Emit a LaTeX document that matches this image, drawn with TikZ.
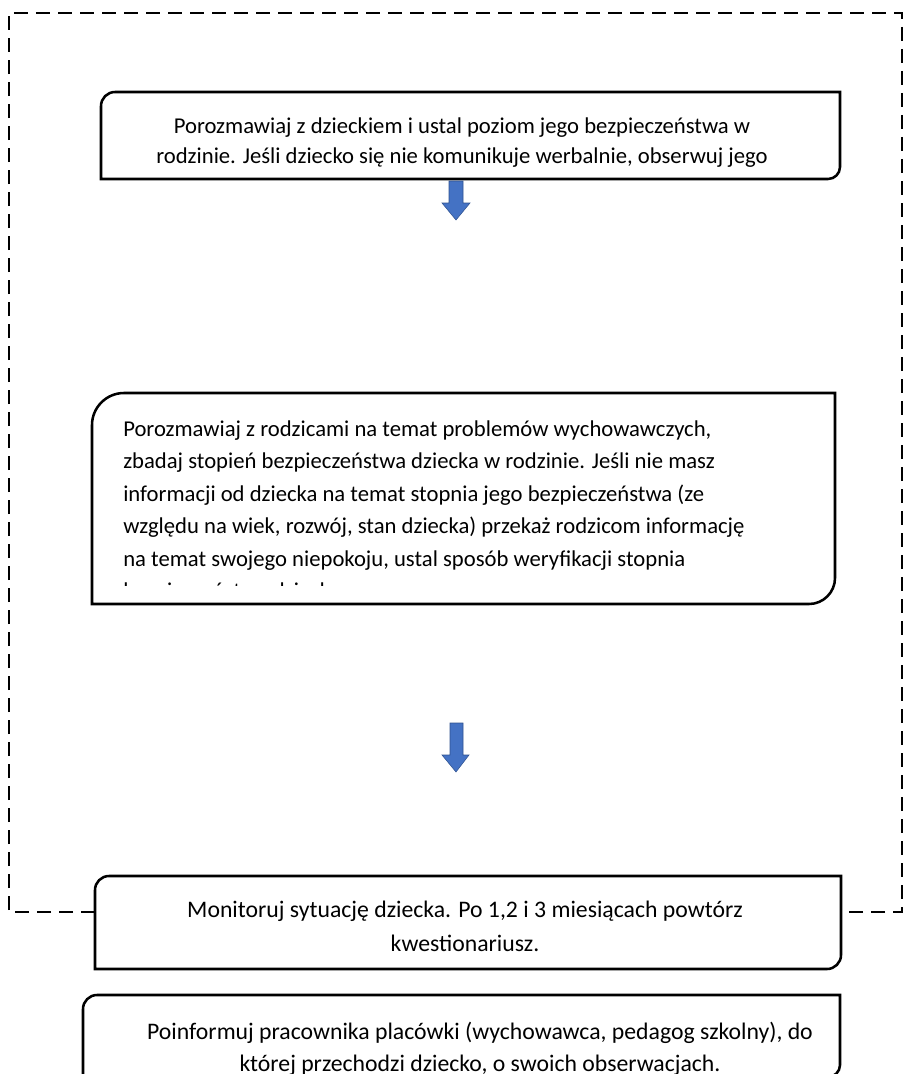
\documentclass[tikz,border=0pt]{standalone}
\usepackage{fontspec}
\setmainfont{Carlito}
\definecolor{arrowblue}{HTML}{4472C4}
\definecolor{arrowedge}{HTML}{2F528F}
\newcommand\cornerbox[6]{%
  \draw[boxline] (#1,#4) -- (#1,#2+#5) .. controls (#1,#2+0.45*#5) and (#1+0.45*#5,#2) .. (#1+#5,#2)
    -- (#3,#2) -- (#3,#4-#6) .. controls (#3,#4-0.45*#6) and (#3-0.45*#6,#4) .. (#3-#6,#4) -- cycle;}
\begin{document}
\begin{tikzpicture}[x=0.75pt,y=-0.75pt,
  boxline/.style={draw=black,line width=1.9pt,fill=white},
  txt/.style={font=\fontsize{17}{24}\selectfont,inner sep=0pt,anchor=base},
  btxt/.style={txt,font=\fontsize{17.8}{24}\selectfont},
  ltxt/.style={txt,anchor=base west},
  blockarrow/.style={fill=arrowblue,draw=arrowedge,line width=0.4pt},
  frame/.style={draw=black,line width=1.1pt,dash pattern=on 10.5pt off 6pt}]
\useasboundingbox (0,0) rectangle (907,1074);
% dashed frame
\coordinate (fl) at (95,912);
\coordinate (fr) at (841,912);
\draw[frame] (fl) -- (9,912) -- (9,13) -- (902,13) -- (902,912) -- (fr);
% box 1
\cornerbox{101}{92}{840}{179}{14}{12}
\begin{scope}
\clip (101,92) rectangle (840,174);
\node[txt] (t1a) at (462,133) {Porozmawiaj z dzieckiem i ustal poziom jego bezpieczeństwa w};
\node[txt] (t1b) at (462,163) {rodzinie. Jeśli dziecko się nie komunikuje werbalnie, obserwuj jego};
\end{scope}
% arrow 1
\draw[blockarrow] (449,181) -- (463,181) -- (463,203) -- (470,203) -- (456,220) -- (442,203) -- (449,203) -- cycle;
% box 2
\cornerbox{92}{393}{835}{604}{32}{26}
\begin{scope}
\clip (92,393) rectangle (835,585);
\node[ltxt] (t2a) at (123,436) {Porozmawiaj z rodzicami na temat problemów wychowawczych,};
\node[ltxt] (t2b) at (123,468.5) {zbadaj stopień bezpieczeństwa dziecka w rodzinie. Jeśli nie masz};
\node[ltxt] (t2c) at (123,501) {informacji od dziecka na temat stopnia jego bezpieczeństwa (ze};
\node[ltxt] (t2d) at (123,533.5) {względu na wiek, rozwój, stan dziecka) przekaż rodzicom informację};
\node[ltxt] (t2e) at (123,566) {na temat swojego niepokoju, ustal sposób weryfikacji stopnia};
\node[ltxt] (t2f) at (123,598.5) {bezpieczeństwa dziecka.};
\end{scope}
% arrow 2
\draw[blockarrow] (450,723) -- (463,723) -- (463,755) -- (469,755) -- (456,772) -- (442,755) -- (450,755) -- cycle;
% box 3
\cornerbox{95}{876}{841}{969}{14}{14}
\node[btxt] (t3a) at (465,917) {Monitoruj sytuację dziecka. Po 1,2 i 3 miesiącach powtórz};
\node[btxt] (t3b) at (465,951) {kwestionariusz.};
% box 4
\cornerbox{83}{995}{840}{1077}{14}{12}
\begin{scope}
\clip (83,995) rectangle (840,1074);
\node[btxt] (t4a) at (480,1039) {Poinformuj pracownika placówki (wychowawca, pedagog szkolny), do};
\node[btxt] (t4b) at (480,1071) {której przechodzi dziecko, o swoich obserwacjach.};
\end{scope}
\end{tikzpicture}
\end{document}
